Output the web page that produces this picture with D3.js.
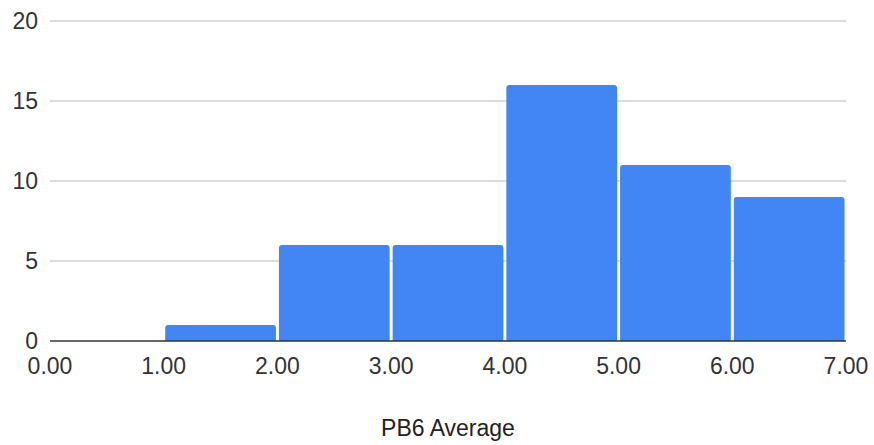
<!DOCTYPE html>
<html><head><meta charset="utf-8">
<script src="https://cdn.jsdelivr.net/npm/d3@7"></script>
<style>body{margin:0;background:#fff}text{font-family:Arial,"Liberation Sans",sans-serif}</style>
</head><body><svg id="c" width="874" height="445"></svg>
<script>
const binStarts = [0, 1, 2, 3, 4, 5, 6];
const binEnds = [1, 2, 3, 4, 5, 6, 7];
const counts = [0, 1, 6, 6, 16, 11, 9];
const xTicks = [0, 1, 2, 3, 4, 5, 6, 7];
const yTicks = [0, 5, 10, 15, 20];
const xTitle = "PB6 Average";

const svg = d3.select("#c");
const x = d3.scaleLinear().domain([0, 7]).range([50, 846]);
const y = d3.scaleLinear().domain([0, 20]).range([341, 21]);

svg.append("g").selectAll("line").data(yTicks.filter(d => d > 0)).join("line")
  .attr("x1", 50).attr("x2", 846).attr("y1", d => y(d)).attr("y2", d => y(d))
  .attr("stroke", "#d0d0d0").attr("stroke-width", 1.3);

svg.append("g").selectAll("text").data(yTicks).join("text")
  .attr("x", 38).attr("y", d => y(d)).attr("dy", "0.36em").attr("text-anchor", "end")
  .attr("font-size", 23).attr("fill", "#333").text(d => d);

const bars = binStarts.map((s, i) => ({s, e: binEnds[i], v: counts[i]})).filter(d => d.v > 0);
svg.append("g").selectAll("path").data(bars).join("path")
  .attr("fill", "#4285f4")
  .attr("d", d => {
    const x0 = x(d.s) + 1.5, x1 = x(d.e) - 1.5, y0 = y(d.v), yb = y(0), r = 3;
    return `M${x0},${yb}V${y0 + r}Q${x0},${y0} ${x0 + r},${y0}H${x1 - r}Q${x1},${y0} ${x1},${y0 + r}V${yb}Z`;
  });

svg.append("line").attr("x1", 50).attr("x2", 846).attr("y1", y(0)).attr("y2", y(0))
  .attr("stroke", "#333").attr("stroke-width", 1.5);

svg.append("g").selectAll("text").data(xTicks).join("text")
  .attr("x", d => x(d)).attr("y", 366).attr("dy", "0.36em").attr("text-anchor", "middle")
  .attr("font-size", 23).attr("fill", "#333").text(d => d.toFixed(2));

svg.append("text").attr("x", 448).attr("y", 428).attr("dy", "0.36em").attr("text-anchor", "middle")
  .attr("font-size", 23).attr("fill", "#222").text(xTitle);
</script></body></html>
